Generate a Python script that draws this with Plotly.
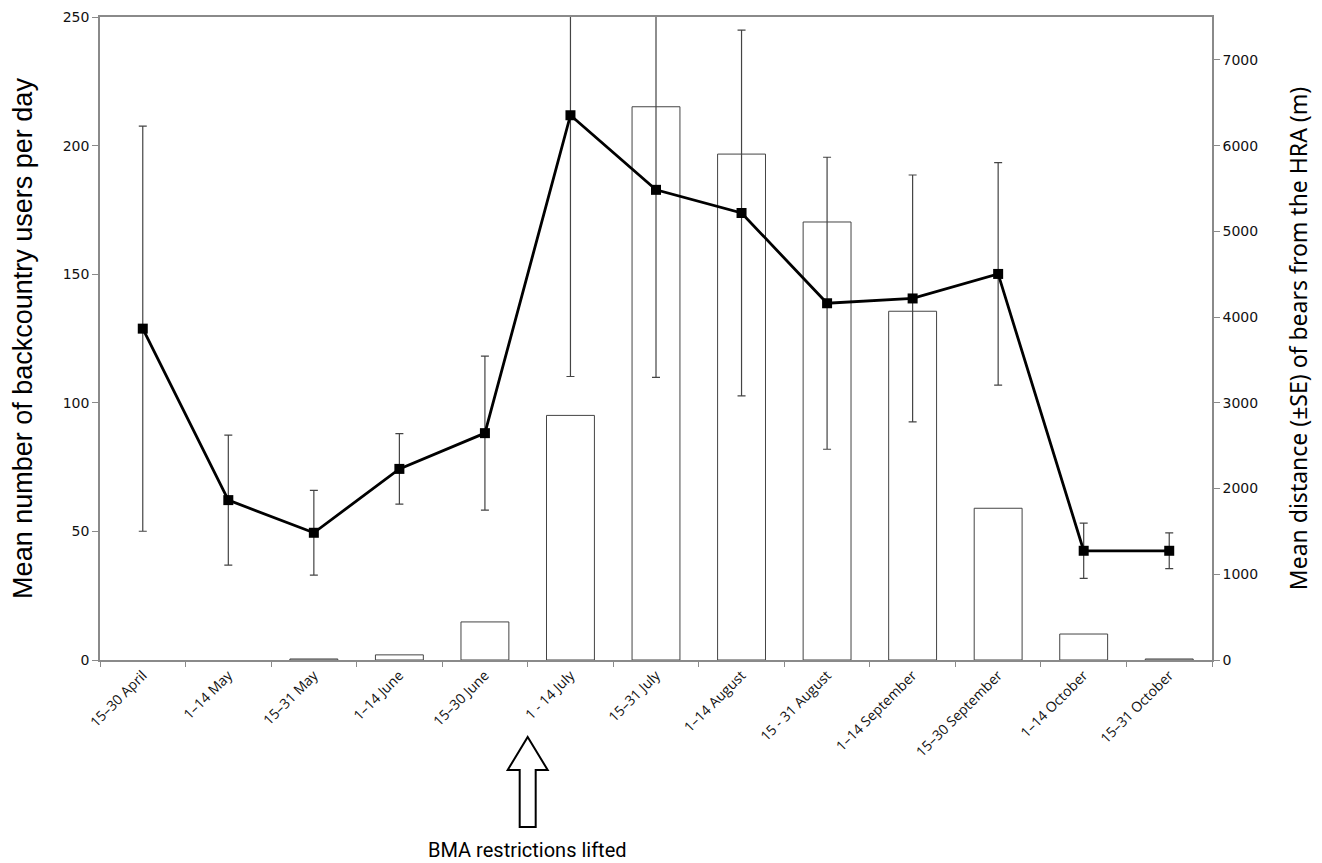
import plotly.graph_objects as go

categories = ["15–30 April", "1–14 May", "15–31 May", "1–14 June", "15–30 June",
              "1 - 14 July", "15–31 July", "1–14 August", "15 - 31 August",
              "1–14 September", "15–30 September", "1–14 October", "15–31 October"]
users_per_day = [0, 0, 0.4, 2.0, 14.8, 95.1, 215.1, 196.7, 170.3, 135.6, 59.0, 10.1, 0.4]
bear_distance = [3865, 1865, 1484, 2229, 2646, 6354, 5484, 5214, 4161, 4217, 4503, 1274, 1274]
distance_se = [2363, 758, 495, 411, 899, 3047, 2188, 2133, 1703, 1440, 1298, 322, 208]

left_ticks = [0, 50, 100, 150, 200, 250]
right_ticks = [0, 1000, 2000, 3000, 4000, 5000, 6000, 7000]

axis_col = "#8a8a8a"
bar_outline = [0 if v == 0 else 1 for v in users_per_day]

fig = go.Figure()
fig.add_trace(go.Bar(
    x=categories, y=users_per_day, yaxis="y",
    marker=dict(color="white", line=dict(color="#444444", width=bar_outline)),
    width=0.56, showlegend=False,
))
fig.add_trace(go.Scatter(
    x=categories, y=bear_distance, yaxis="y2", mode="lines+markers",
    line=dict(color="black", width=2.8),
    marker=dict(symbol="square", size=10, color="black"),
    error_y=dict(type="data", array=distance_se, visible=True,
                 color="#444444", thickness=1.2, width=4),
    showlegend=False,
))

fig.update_layout(
    width=1322, height=863,
    margin=dict(l=100, r=110, t=17, b=203),
    paper_bgcolor="white", plot_bgcolor="white",
    xaxis=dict(
        type="category", tickangle=-45, tickson="boundaries", automargin=False,
        ticks="outside", ticklen=5, tickcolor=axis_col,
        showline=True, linecolor=axis_col, linewidth=1.5, mirror=True,
        tickfont=dict(family="Open Sans", size=14, color="#111111"),
        showgrid=False, range=[-0.5, 12.5],
    ),
    yaxis=dict(
        range=[0, 250], tickvals=left_ticks, ticks="outside", ticklen=6,
        automargin=False,
        tickcolor=axis_col, showline=True, linecolor=axis_col, linewidth=1.5,
        showgrid=False, zeroline=False,
        tickfont=dict(family="DejaVu Sans", size=14, color="#111111"),
        title=dict(text="Mean number of backcountry users per day",
                   font=dict(family="Liberation Sans", size=27, color="black"),
                   standoff=22),
    ),
    yaxis2=dict(
        range=[0, 7500], tickvals=right_ticks, overlaying="y", side="right",
        automargin=False,
        ticks="outside", ticklen=6, tickcolor=axis_col,
        showline=True, linecolor=axis_col, linewidth=1.5,
        showgrid=False, zeroline=False,
        tickfont=dict(family="DejaVu Sans", size=14, color="#111111"),
        title=dict(text="Mean distance (±SE) of bears from the HRA (m)",
                   font=dict(family="Noto Sans", size=23, color="black"),
                   standoff=34),
    ),
)

# Arrow marking when BMA restrictions were lifted (between 15–30 June and 1–14 July)
fig.add_shape(
    type="path", xref="x", yref="paper",
    xsizemode="pixel", ysizemode="pixel", xanchor=4.5, yanchor=0,
    path="M 0 -77 L 20 -110 L 8 -110 L 8 -167 L -8 -167 L -8 -110 L -20 -110 Z",
    line=dict(color="black", width=2), fillcolor="white", layer="above",
)
fig.add_annotation(
    text="BMA restrictions lifted", xref="x", yref="paper", x=4.5, y=-0.296,
    showarrow=False, yanchor="middle", xanchor="center",
    font=dict(family="Roboto", size=20, color="black"),
)

fig.write_html(
    "out.html",
    config={"displayModeBar": False},
    post_script="document.body.style.margin='0';document.body.style.overflow='hidden';",
)
